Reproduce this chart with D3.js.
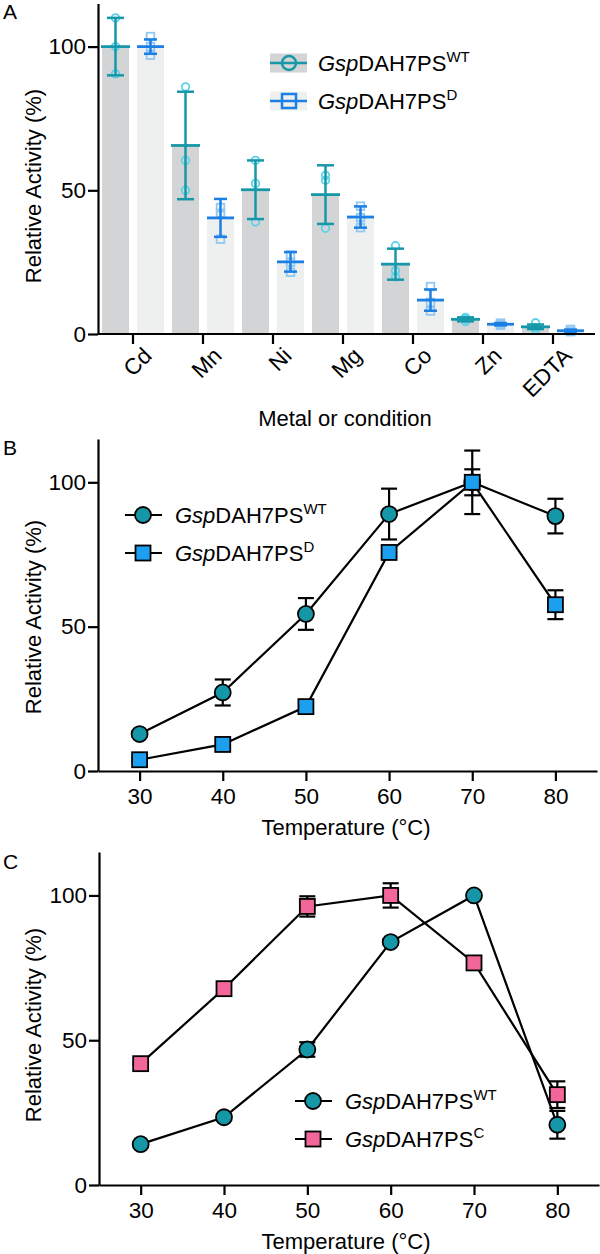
<!DOCTYPE html>
<html><head><meta charset="utf-8">
<script src="https://cdn.jsdelivr.net/npm/d3@7"></script>
<style>
body{margin:0;background:#fff;}
svg{display:block;font-family:"Liberation Sans",Arial,sans-serif;}
</style></head>
<body><svg id="c" width="600" height="1254"></svg>
<script>
// ---------- Panel A data ----------
const metals = ["Cd","Mn","Ni","Mg","Co","Zn","EDTA"];
const wtMean = [100, 65.6, 50.2, 48.5, 24.3, 5.1, 2.5];
const wtErr  = [10, 18.7, 10.2, 10.2, 5.4, 0.7, 0.8];
const wtPts  = [[110,100,90.5],[86,60.4,50],[60.4,52.4,39],[55.2,53.5,36.8],[30.7,22,19.9],[5.8,5.2,4.4],[3.9,2.2,1.4]];
const dMean  = [100, 40.4, 25.1, 40.7, 11.8, 3.4, 1.15];
const dErr   = [2.5, 6.6, 3.4, 3.7, 3.7, 0.4, 0.4];
const dPts   = [[103.5,100,97],[44,42,33],[27.5,25,21.5],[44.5,40.5,37],[16.5,11,8],[3.8,3.3,3],[1.6,1,0.8]];
// ---------- Panel B / C data ----------
const temps  = [30,40,50,60,70,80];
const bWT    = [12.8, 27.2, 54.4, 89, 100, 88.3];
const bWTerr = [1, 4.5, 5.5, 8.8, 11, 6];
const bD     = [3.9, 9.2, 22.3, 75.7, 100, 57.6];
const bDerr  = [0.5, 1, 1.5, 1.5, 4.5, 5];
const cWT    = [14.1, 23.4, 46.8, 83.9, 100, 20.8];
const cWTerr = [0.5, 1, 2.5, 1, 0.5, 4.8];
const cC     = [41.9, 67.8, 96.2, 100, 76.7, 31.2];
const cCerr  = [0.5, 0.5, 3.5, 4.2, 1.8, 4.6];
const yTicks = [0, 50, 100];
const tTicks = [30, 40, 50, 60, 70, 80];

const svg = d3.select("#c");
const FONT_T = 22.5, FONT_L = 22;
const colWT = "#1798a9", colD = "#1b7fe3";

function yAxis(g, y){
  g.call(d3.axisLeft(y).tickValues(yTicks).tickSize(10).tickSizeOuter(0).tickPadding(2));
  g.select(".domain").attr("stroke-width",2.2);
  g.selectAll(".tick line").attr("stroke-width",2.2);
  g.selectAll(".tick text").attr("font-size",FONT_T).attr("font-family","Liberation Sans, Arial");
}
function legendLabel(t, sup){
  t.append("tspan").attr("font-style","italic").text("Gsp");
  t.append("tspan").text("DAH7PS");
  t.append("tspan").attr("font-size",15).attr("dy",-9).text(sup);
}
function panelLabel(txt, y){
  svg.append("text").attr("x",3).attr("y",y).attr("font-size",21).text(txt);
}
function yTitle(cy){
  svg.append("text").attr("transform",`translate(41,${cy}) rotate(-90)`)
    .attr("text-anchor","middle").attr("font-size",FONT_L).text("Relative Activity (%)");
}

// ================= Panel A =================
{
  const yA = d3.scaleLinear().domain([0,115]).range([334, 3.5]);
  const xA = d3.scaleBand().domain(metals).range([98, 588]);
  const c = i => xA(metals[i]) + xA.bandwidth()/2;
  const off = 17.5, bw = 27;
  const gA = svg.append("g");
  gA.selectAll(".bwt").data(wtMean).join("rect")
    .attr("x",(d,i)=>c(i)-off-bw/2).attr("width",bw)
    .attr("y",d=>yA(d)).attr("height",d=>yA(0)-yA(d)).attr("fill","#d3d4d5");
  gA.selectAll(".bd").data(dMean).join("rect")
    .attr("x",(d,i)=>c(i)+off-bw/2).attr("width",bw)
    .attr("y",d=>yA(d)).attr("height",d=>yA(0)-yA(d)).attr("fill","#eef0f0");
  wtPts.forEach((pts,i)=>pts.forEach(v=>{
    gA.append("circle").attr("cx",c(i)-off).attr("cy",yA(v)).attr("r",3.8)
      .attr("fill","none").attr("stroke","#5cd2ea").attr("stroke-width",1.8);
  }));
  dPts.forEach((pts,i)=>pts.forEach(v=>{
    gA.append("rect").attr("x",c(i)+off-3.8).attr("y",yA(v)-3.8).attr("width",7.6).attr("height",7.6)
      .attr("fill","none").attr("stroke","#93c8f2").attr("stroke-width",1.8);
  }));
  function errBars(mean, err, dx, col, capW, meanW){
    mean.forEach((m,i)=>{
      const x = c(i)+dx;
      gA.append("line").attr("x1",x).attr("x2",x).attr("y1",yA(m+err[i])).attr("y2",yA(m-err[i]))
        .attr("stroke",col).attr("stroke-width",2.5);
      [m+err[i], m-err[i]].forEach(v=>gA.append("line").attr("x1",x-capW/2).attr("x2",x+capW/2)
        .attr("y1",yA(v)).attr("y2",yA(v)).attr("stroke",col).attr("stroke-width",2.5));
      gA.append("line").attr("x1",x-meanW/2).attr("x2",x+meanW/2).attr("y1",yA(m)).attr("y2",yA(m))
        .attr("stroke",col).attr("stroke-width",2.8);
    });
  }
  errBars(wtMean, wtErr, -off, colWT, 17, 29);
  errBars(dMean, dErr, off, colD, 13, 27);
  const ya = svg.append("g").attr("transform","translate(98,0)");
  yAxis(ya, yA);
  const xa = svg.append("g").attr("transform","translate(0,334)")
    .call(d3.axisBottom(xA).tickSize(10).tickSizeOuter(0));
  xa.select(".domain").remove();
  xa.append("line").attr("x1",98).attr("x2",595).attr("stroke","#000").attr("stroke-width",2.2);
  xa.selectAll(".tick line").attr("stroke-width",2.2);
  xa.selectAll(".tick text").attr("font-size",FONT_T).attr("font-family","Liberation Sans, Arial")
    .attr("text-anchor","end").attr("transform","translate(9,12) rotate(-45)").attr("dy","0.7em").attr("y",0);
  svg.append("text").attr("x",345).attr("y",426).attr("text-anchor","middle").attr("font-size",FONT_L)
    .text("Metal or condition");
  yTitle(186);
  panelLabel("A", 19);
  const lg = svg.append("g");
  [["WT","#d3d4d5",colWT,63],["D","#eef0f0",colD,101]].forEach(([sup,fill,col,y],k)=>{
    lg.append("rect").attr("x",270).attr("y",y-9.5).attr("width",37).attr("height",19).attr("fill",fill);
    lg.append("line").attr("x1",270).attr("x2",307).attr("y1",y).attr("y2",y).attr("stroke",col).attr("stroke-width",2.5);
    if(k===0) lg.append("circle").attr("cx",289).attr("cy",y).attr("r",7).attr("fill","none").attr("stroke",col).attr("stroke-width",2.5);
    else lg.append("rect").attr("x",282).attr("y",y-7).attr("width",14).attr("height",14).attr("fill","none").attr("stroke",col).attr("stroke-width",2.5);
    const t = lg.append("text").attr("x",318).attr("y",y+8).attr("font-size",FONT_L);
    legendLabel(t, sup);
  });
}

// ================= Line panels =================
function linePanel(opt){
  const y = d3.scaleLinear().domain([0,115]).range([opt.y0, opt.yTop]);
  const x = d3.scaleLinear().domain([25,85]).range([opt.x0, opt.x1]);
  const g = svg.append("g");
  const line = d3.line().x((d,i)=>x(temps[i])).y(d=>y(d));
  opt.series.forEach(s=>{
    g.append("path").attr("d",line(s.v)).attr("fill","none").attr("stroke","#000").attr("stroke-width",2.2);
  });
  opt.series.forEach(s=>{
    s.v.forEach((v,i)=>{
      const xx = x(temps[i]);
      const e = s.e[i];
      g.append("line").attr("x1",xx).attr("x2",xx).attr("y1",y(v+e)).attr("y2",y(v-e)).attr("stroke","#000").attr("stroke-width",2.2);
      [v+e,v-e].forEach(w=>g.append("line").attr("x1",xx-8).attr("x2",xx+8).attr("y1",y(w)).attr("y2",y(w)).attr("stroke","#000").attr("stroke-width",2.2));
    });
  });
  opt.series.forEach(s=>{
    s.v.forEach((v,i)=>{
      const xx = x(temps[i]);
      if(s.shape==="circle") g.append("circle").attr("cx",xx).attr("cy",y(v)).attr("r",8)
        .attr("fill",s.fill).attr("stroke","#000").attr("stroke-width",1.8);
      else g.append("rect").attr("x",xx-7.5).attr("y",y(v)-7.5).attr("width",15).attr("height",15)
        .attr("fill",s.fill).attr("stroke","#000").attr("stroke-width",1.8);
    });
  });
  const ya = svg.append("g").attr("transform",`translate(${opt.x0},0)`);
  yAxis(ya, y);
  const xa = svg.append("g").attr("transform",`translate(0,${opt.y0})`)
    .call(d3.axisBottom(x).tickValues(tTicks).tickSize(10).tickSizeOuter(0).tickPadding(7));
  xa.select(".domain").attr("stroke-width",2.2);
  xa.selectAll(".tick line").attr("stroke-width",2.2);
  xa.selectAll(".tick text").attr("font-size",FONT_T).attr("font-family","Liberation Sans, Arial");
  svg.append("text").attr("x",346).attr("y",opt.y0+64).attr("text-anchor","middle").attr("font-size",FONT_L)
    .text("Temperature (°C)");
  yTitle(opt.titleY);
  panelLabel(opt.label, opt.labelY);
  opt.series.forEach((s,k)=>{
    const ly = opt.legY + k*38;
    const lx = opt.legX;
    svg.append("line").attr("x1",lx-18).attr("x2",lx+19).attr("y1",ly).attr("y2",ly).attr("stroke","#000").attr("stroke-width",2.2);
    if(s.shape==="circle") svg.append("circle").attr("cx",lx).attr("cy",ly).attr("r",8).attr("fill",s.fill).attr("stroke","#000").attr("stroke-width",1.8);
    else svg.append("rect").attr("x",lx-7.5).attr("y",ly-7.5).attr("width",15).attr("height",15).attr("fill",s.fill).attr("stroke","#000").attr("stroke-width",1.8);
    const t = svg.append("text").attr("x",lx+32).attr("y",ly+8).attr("font-size",FONT_L);
    legendLabel(t, s.sup);
  });
}
linePanel({y0:771, yTop:439, x0:98, x1:597, label:"B", labelY:455, titleY:617, legX:143, legY:515,
  series:[{v:bWT,e:bWTerr,shape:"circle",fill:"#1597a8",sup:"WT"},{v:bD,e:bDerr,shape:"rect",fill:"#1d9ff0",sup:"D"}]});
linePanel({y0:1185, yTop:852, x0:99, x1:599, label:"C", labelY:869, titleY:1025, legX:313, legY:1101,
  series:[{v:cWT,e:cWTerr,shape:"circle",fill:"#1597a8",sup:"WT"},{v:cC,e:cCerr,shape:"rect",fill:"#f2679a",sup:"C"}]});
</script></body></html>
